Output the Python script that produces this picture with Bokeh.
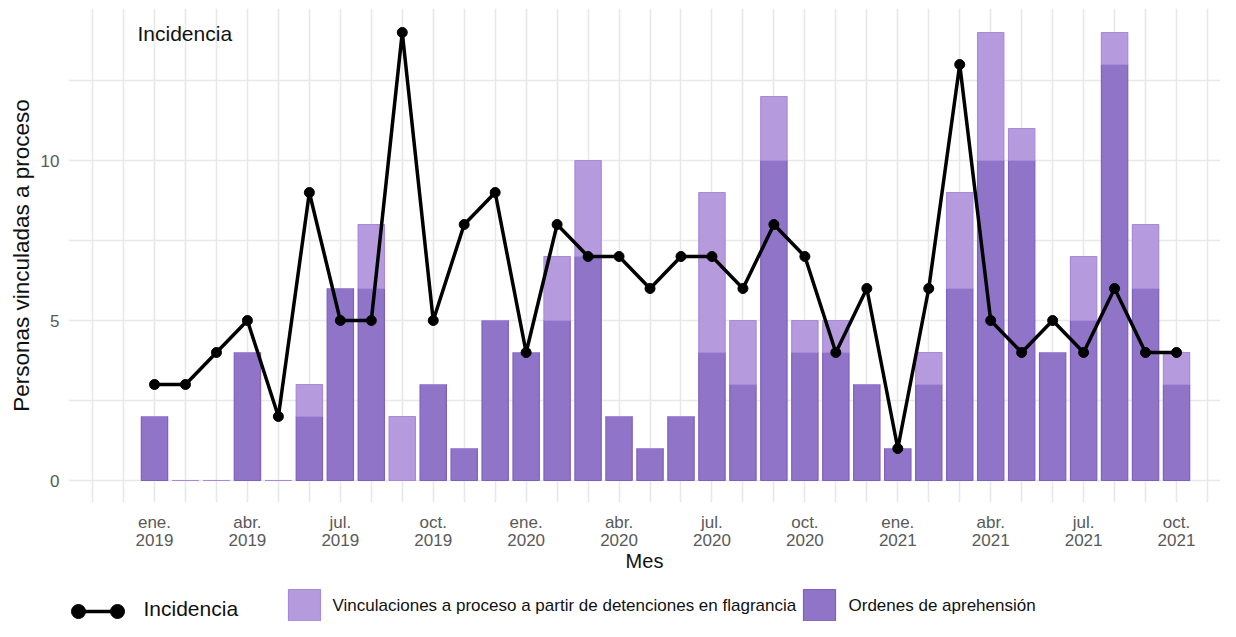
import numpy as np
from bokeh.plotting import figure
from bokeh.layouts import column
from bokeh.models import FixedTicker, Range1d, ColumnDataSource
from bokeh.core.properties import value
from bokeh.embed import file_html
from bokeh.resources import INLINE

# ---------------- data ----------------
meses = ["ene. 2019", "feb. 2019", "mar. 2019", "abr. 2019", "may. 2019", "jun. 2019",
         "jul. 2019", "ago. 2019", "sep. 2019", "oct. 2019", "nov. 2019", "dic. 2019",
         "ene. 2020", "feb. 2020", "mar. 2020", "abr. 2020", "may. 2020", "jun. 2020",
         "jul. 2020", "ago. 2020", "sep. 2020", "oct. 2020", "nov. 2020", "dic. 2020",
         "ene. 2021", "feb. 2021", "mar. 2021", "abr. 2021", "may. 2021", "jun. 2021",
         "jul. 2021", "ago. 2021", "sep. 2021", "oct. 2021"]
ordenes = [2, 0, 0, 4, 0, 2, 6, 6, 0, 3, 1, 5,
           4, 5, 7, 2, 1, 2, 4, 3, 10, 4, 4, 3,
           1, 3, 6, 10, 10, 4, 5, 13, 6, 3]
flagrancia = [0, 0, 0, 0, 0, 1, 0, 2, 2, 0, 0, 0,
              0, 2, 3, 0, 0, 0, 5, 2, 2, 1, 1, 0,
              0, 1, 3, 4, 1, 0, 2, 1, 2, 1]
incidencia = [3, 3, 4, 5, 2, 9, 5, 5, 14, 5, 8, 9,
              4, 8, 7, 7, 6, 7, 7, 6, 8, 7, 4, 6,
              1, 6, 13, 5, 4, 5, 4, 6, 4, 4]
tick_pos = [0, 3, 6, 9, 12, 15, 18, 21, 24, 27, 30, 33]
tick_labels = ["ene.\n2019", "abr.\n2019", "jul.\n2019", "oct.\n2019",
               "ene.\n2020", "abr.\n2020", "jul.\n2020", "oct.\n2020",
               "ene.\n2021", "abr.\n2021", "jul.\n2021", "oct.\n2021"]
y_ticks = [0, 5, 10]
legend_labels = ["Incidencia",
                 "Vinculaciones a proceso a partir de detenciones en flagrancia",
                 "Ordenes de aprehensión"]

# ---------------- styling ----------------
FONT = "Liberation Sans"
LIGHT = "#b59add"
LIGHT_LINE = "#a88bd7"
DARK = "#8f74c7"
DARK_LINE = "#7d60bf"
GRID = "#e8e8e8"

W = 1220
H1 = 574          # main chart height
H2 = 47           # legend strip height
FL, FT = 68, 8
FRAME_BOTTOM = 502
x_start, x_end = -2.777, 34.42
y_start, y_end = -0.6875, 14.75

x = np.arange(len(meses))
ordenes_a = np.array(ordenes, dtype=float)
flag_a = np.array(flagrancia, dtype=float)

src = ColumnDataSource(dict(
    x=x, ordenes=ordenes_a, total=ordenes_a + flag_a,
    incidencia=np.array(incidencia, dtype=float), mes=meses))

p = figure(width=W, height=H1, output_backend="svg", toolbar_location=None,
           x_range=Range1d(x_start, x_end), y_range=Range1d(y_start, y_end),
           min_border_left=FL, min_border_right=0, min_border_top=FT,
           min_border_bottom=H1 - FRAME_BOTTOM)
p.outline_line_color = None
p.background_fill_color = "white"
p.border_fill_color = "white"

# grid
p.xgrid.ticker = FixedTicker(ticks=list(range(-2, 36)))
p.ygrid.ticker = FixedTicker(ticks=[0, 2.5, 5, 7.5, 10, 12.5])
for g in (p.xgrid[0], p.ygrid[0]):
    g.grid_line_color = GRID
    g.grid_line_width = 1.6

# axes
p.xaxis.ticker = FixedTicker(ticks=tick_pos)
p.xaxis.major_label_overrides = {t: l for t, l in zip(tick_pos, tick_labels)}
p.yaxis.ticker = FixedTicker(ticks=y_ticks)
for ax in (p.xaxis[0], p.yaxis[0]):
    ax.axis_line_color = None
    ax.major_tick_line_color = None
    ax.minor_tick_line_color = None
    ax.major_tick_out = 0
    ax.major_tick_in = 0
    ax.minor_tick_out = 0
    ax.minor_tick_in = 0
    ax.major_label_text_font = FONT
    ax.major_label_text_font_size = "17px"
    ax.major_label_text_color = "#595959"
    ax.axis_label_text_font = FONT
    ax.axis_label_text_font_style = "normal"
    ax.axis_label_text_color = "#111111"
p.xaxis.major_label_text_line_height = 0.95
p.xaxis.major_label_standoff = 10
p.xaxis.axis_label = "Mes"
p.xaxis.axis_label_text_font_size = "20px"
p.xaxis.axis_label_standoff = -3
p.yaxis.axis_label = "Personas vinculadas a proceso"
p.yaxis.axis_label_text_font_size = "22.5px"
p.yaxis.major_label_standoff = 9
p.yaxis.axis_label_standoff = 4

# bars
BW = 0.85
p.vbar(x="x", bottom=0, top="ordenes", width=BW, source=src,
       fill_color=DARK, line_color=DARK_LINE, line_width=1.2)
p.vbar(x="x", bottom="ordenes", top="total", width=BW, source=src,
       fill_color=LIGHT, line_color=LIGHT_LINE, line_width=1.2)

# line
p.line(x="x", y="incidencia", source=src, line_color="black", line_width=3.5)
p.scatter(x="x", y="incidencia", source=src, size=10, fill_color="black",
          line_color="black")

# top-left label (pixel position converted to data units)
px_x = (W - FL) / (x_end - x_start)
px_y = (FRAME_BOTTOM - FT) / (y_end - y_start)
p.text(x=[x_start + (137 - FL) / px_x], y=[y_end - (33 - FT) / px_y],
       text=["Incidencia"], text_font=value(FONT), text_font_size="21px",
       text_color="#111111", text_baseline="middle", text_align="left")

# ---------------- legend strip (pixel coordinates, y downwards) ----------------
lg = figure(width=W, height=H2, output_backend="svg", toolbar_location=None,
            x_range=Range1d(FL, W), y_range=Range1d(H2, 0),
            x_axis_location=None, y_axis_location=None,
            min_border=0, min_border_left=FL, min_border_right=0,
            min_border_top=0, min_border_bottom=0)
lg.outline_line_color = None
lg.xgrid.visible = False
lg.ygrid.visible = False
lg.background_fill_color = "white"
lg.border_fill_color = "white"

LY = 37
lg.line(x=[78, 117], y=[LY, LY], line_color="black", line_width=3.5)
lg.scatter(x=[78, 117], y=[LY, LY], size=14, fill_color="black", line_color="black")
lg.text(x=[143], y=[34], text=[legend_labels[0]], text_font=value(FONT),
        text_font_size="21px", text_color="#111111", text_baseline="middle")
lg.quad(left=[288], right=[320], top=[15], bottom=[46.5],
        fill_color=LIGHT, line_color=LIGHT_LINE, line_width=1.2)
lg.text(x=[332], y=[31], text=[legend_labels[1]], text_font=value(FONT),
        text_font_size="17px", text_color="#111111", text_baseline="middle")
lg.quad(left=[803], right=[835], top=[15], bottom=[46.5],
        fill_color=DARK, line_color=DARK_LINE, line_width=1.2)
lg.text(x=[848], y=[31], text=[legend_labels[2]], text_font=value(FONT),
        text_font_size="17px", text_color="#111111", text_baseline="middle")

layout = column(p, lg, spacing=0)
open("out.html", "w").write(file_html(layout, INLINE))
